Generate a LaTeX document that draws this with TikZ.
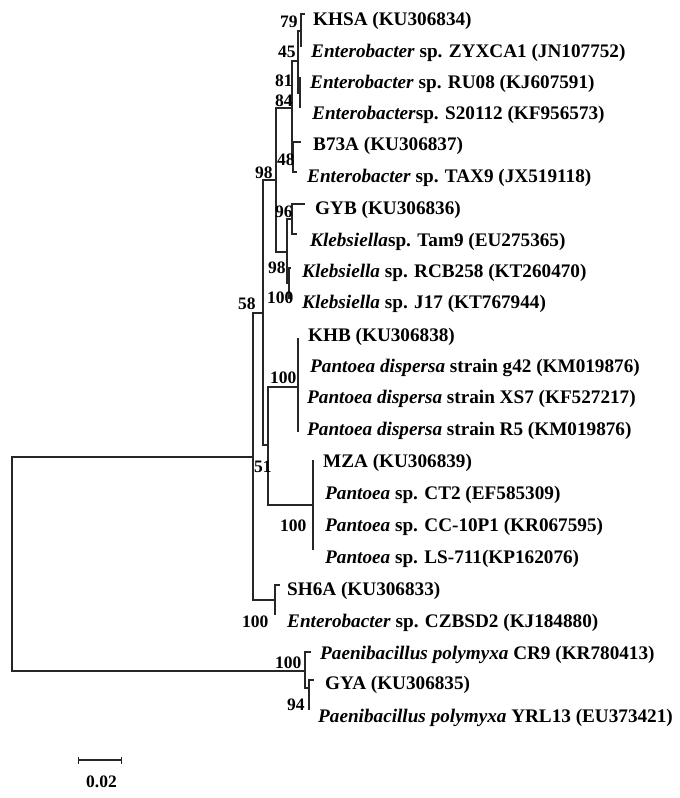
\documentclass[tikz,border=0pt]{standalone}
\usepackage{fontspec}
\setmainfont{Liberation Serif}
\usetikzlibrary{arrows.meta}
\begin{document}
\begin{tikzpicture}[x=1pt,y=-1pt,
  br/.style={draw=black!85, line width=1.3pt},
  leaf/.style={anchor=base west, inner sep=0pt, font=\fontsize{19.2}{20}\selectfont\bfseries},
  boot/.style={anchor=base west, inner sep=0pt, font=\fontsize{17.5}{18}\selectfont\bfseries}]
\useasboundingbox (0,0) rectangle (680,798);
% internal nodes
\coordinate (R) at (12,564);
\coordinate (U) at (253,457);
\coordinate (V) at (263,313);
\coordinate (W) at (276,180);
\coordinate (A) at (292,108);
\coordinate (B) at (298,61);
\coordinate (B1) at (301,31);
\coordinate (B2) at (300,93);
\coordinate (C) at (293,157);
\coordinate (K) at (287,252);
\coordinate (G) at (292,219);
\coordinate (L) at (289,283);
\coordinate (X) at (268,445);
\coordinate (D) at (298,387);
\coordinate (M) at (313,505);
\coordinate (S) at (275,600);
\coordinate (P) at (305,671);
\coordinate (Q) at (309,688);
% leaf ends
\coordinate (l1) at (305,14);
\coordinate (l2) at (301,47);
\coordinate (l3) at (301,78);
\coordinate (l4) at (300,108);
\coordinate (l5) at (301,142);
\coordinate (l6) at (297,172);
\coordinate (l7) at (305,204);
\coordinate (l8) at (297,234);
\coordinate (l9) at (291,268);
\coordinate (l10) at (291,298);
\coordinate (l11) at (298,338);
\coordinate (l12) at (298,368);
\coordinate (l13) at (298,399);
\coordinate (l14) at (298,432);
\coordinate (l15) at (313,460);
\coordinate (l16) at (313,494);
\coordinate (l17) at (313,525);
\coordinate (l18) at (313,550);
\coordinate (l19) at (280,585);
\coordinate (l20) at (275,615);
\coordinate (l21) at (311,652);
\coordinate (l22) at (314,680);
\coordinate (l23) at (309,710);
% branches
\foreach \p/\c in {R/U,R/P,U/V,U/S,V/W,V/X,W/A,W/K,A/B,A/C,B/B1,B/B2,
  B1/l1,B1/l2,B2/l3,B2/l4,C/l5,C/l6,K/G,K/L,G/l7,G/l8,L/l9,L/l10,
  X/D,X/M,D/l11,D/l12,D/l13,D/l14,M/l15,M/l16,M/l17,M/l18,S/l19,S/l20,
  P/l21,P/Q,Q/l22,Q/l23}
  \draw[br] (\p) |- (\c);
% leaf labels
\node[leaf] (t1) at (313,25) {KHSA (KU306834)};
\node[leaf] (t2) at (311,57) {\textit{Enterobacter} sp. ZYXCA1 (JN107752)};
\node[leaf] (t3) at (310,88) {\textit{Enterobacter} sp. RU08 (KJ607591)};
\node[leaf] (t4) at (312,119) {\textit{Enterobacter}sp. S20112 (KF956573)};
\node[leaf] (t5) at (313,150) {B73A (KU306837)};
\node[leaf] (t6) at (307,182) {\textit{Enterobacter} sp. TAX9 (JX519118)};
\node[leaf] (t7) at (315,214) {GYB (KU306836)};
\node[leaf] (t8) at (310,246) {\textit{Klebsiella}sp. Tam9 (EU275365)};
\node[leaf] (t9) at (302,277) {\textit{Klebsiella} sp. RCB258 (KT260470)};
\node[leaf] (t10) at (302,308) {\textit{Klebsiella} sp. J17 (KT767944)};
\node[leaf] (t11) at (308,341) {KHB (KU306838)};
\node[leaf] (t12) at (310,372) {\textit{Pantoea dispersa} strain g42 (KM019876)};
\node[leaf] (t13) at (307,403) {\textit{Pantoea dispersa} strain XS7 (KF527217)};
\node[leaf] (t14) at (307,435) {\textit{Pantoea dispersa} strain R5 (KM019876)};
\node[leaf] (t15) at (323,467) {MZA (KU306839)};
\node[leaf] (t16) at (325,499) {\textit{Pantoea} sp. CT2 (EF585309)};
\node[leaf] (t17) at (325,531) {\textit{Pantoea} sp. CC-10P1 (KR067595)};
\node[leaf] (t18) at (325,563) {\textit{Pantoea} sp. LS-711(KP162076)};
\node[leaf] (t19) at (287,595) {SH6A (KU306833)};
\node[leaf] (t20) at (287,627) {\textit{Enterobacter} sp. CZBSD2 (KJ184880)};
\node[leaf] (t21) at (320,659) {\textit{Paenibacillus polymyxa} CR9 (KR780413)};
\node[leaf] (t22) at (325,689) {GYA (KU306835)};
\node[leaf] (t23) at (318,722) {\textit{Paenibacillus polymyxa} YRL13 (EU373421)};
% bootstrap values
\node[boot] (b1) at (280,27) {79};
\node[boot] (b2) at (278,57) {45};
\node[boot] (b3) at (275,86) {81};
\node[boot] (b4) at (275,106) {84};
\node[boot] (b5) at (277,165) {48};
\node[boot] (b6) at (255,178) {98};
\node[boot] (b7) at (275,217) {96};
\node[boot] (b8) at (268,273) {98};
\node[boot] (b9) at (267,303) {100};
\node[boot] (b10) at (238,309) {58};
\node[boot] (b11) at (270,383) {100};
\node[boot] (b12) at (254,472) {51};
\node[boot] (b13) at (280,531) {100};
\node[boot] (b14) at (242,627) {100};
\node[boot] (b15) at (275,668) {100};
\node[boot] (b16) at (287,710) {94};
% scale bar
\coordinate (sb1) at (78,760);
\coordinate (sb2) at (122,760);
\draw[br, line width=1.1pt, {Bar[width=7pt]}-{Bar[width=7pt]}] (sb1) -- (sb2);
\node[boot] (sbl) at (86,787) {0.02};
\end{tikzpicture}
\end{document}
